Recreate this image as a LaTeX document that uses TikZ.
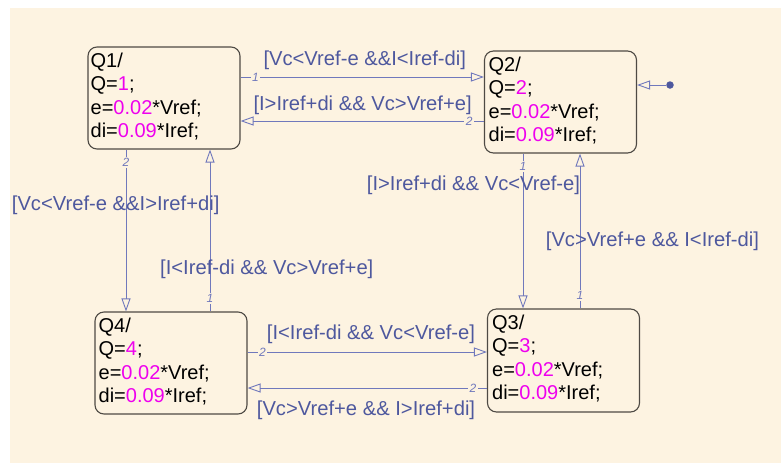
\documentclass[tikz,border=0pt]{standalone}
\usepackage{fontspec}
\setmainfont{Liberation Sans}
\usetikzlibrary{arrows.meta}
\definecolor{paper}{RGB}{253,243,225}
\definecolor{boxline}{RGB}{78,74,68}
\definecolor{trline}{RGB}{112,120,188}
\definecolor{trtext}{RGB}{78,88,158}
\definecolor{numcol}{RGB}{238,0,238}
\newcommand\mg[1]{\textcolor{numcol}{#1}}
\tikzset{
  state/.style={draw=boxline, line width=1.1pt, rounded corners=9pt, fill=paper,
    minimum width=152pt, minimum height=102pt, inner sep=0pt},
  stext/.style={anchor=north west, align=left, inner sep=0pt,
    font={\fontsize{20}{23.3}\selectfont}},
  tr/.style={draw=trline, line width=0.9pt,
    -{Triangle[open, length=13pt, width=9pt]}},
  num/.style={fill=paper, inner sep=1.5pt, text=trline,
    font={\fontsize{12}{13}\selectfont\itshape}},
  guard/.style={anchor=base west, inner sep=0pt, text=trtext,
    font={\fontsize{20.2}{22}\selectfont}}
}
\begin{document}
\begin{tikzpicture}[x=1pt,y=-1pt]
  % canvas
  \useasboundingbox (0,0) rectangle (781,464);
  \fill[white] (0,0) rectangle (781,464);
  \fill[paper] (10,8) rectangle (781,463);

  % states
  \node[state] (q1) at (164,98) {};
  \node[state] (q2) at (560.5,102) {};
  \node[state] (q4) at (171,363) {};
  \node[state, minimum height=103pt] (q3) at (563.5,360.5) {};

  \node[stext] (q1t) at ([xshift=3pt,yshift=-6.3pt]q1.north west)
    {Q1/\\Q=\mg{1};\\e=\mg{0.02}*Vref;\\di=\mg{0.09}*Iref;};
  \node[stext] (q2t) at ([xshift=4.5pt,yshift=-6.3pt]q2.north west)
    {Q2/\\Q=\mg{2};\\e=\mg{0.02}*Vref;\\di=\mg{0.09}*Iref;};
  \node[stext] (q4t) at ([xshift=4pt,yshift=-6.3pt]q4.north west)
    {Q4/\\Q=\mg{4};\\e=\mg{0.02}*Vref;\\di=\mg{0.09}*Iref;};
  \node[stext] (q3t) at ([xshift=5pt,yshift=-6.3pt]q3.north west)
    {Q3/\\Q=\mg{3};\\e=\mg{0.02}*Vref;\\di=\mg{0.09}*Iref;};

  % default transition
  \node[circle, fill=trtext, inner sep=0pt, minimum size=7.5pt] (init) at (670,85) {};
  \draw[tr] (init) -- (q2.east |- 0,85);

  % transitions
  \draw[tr] (q1.east |- 0,77) -- node[num, pos=0.061]{1} (q2.west |- 0,77);
  \draw[tr] (q2.west |- 0,121) -- node[num, pos=0.061]{2} (q1.east |- 0,121);
  \draw[tr] (q1.south -| 126,0) -- node[num, pos=0.08]{2} (q4.north -| 126,0);
  \draw[tr] (q4.north -| 210,0) -- node[num, pos=0.08]{1} (q1.south -| 210,0);
  \draw[tr] (q4.east |- 0,352) -- node[num, pos=0.0625]{2} (q3.west |- 0,352);
  \draw[tr] (q3.west |- 0,388) -- node[num, pos=0.058]{2} (q4.east |- 0,388);
  \draw[tr] (q2.south -| 523,0) -- node[num, pos=0.083]{1} (q3.north -| 523,0);
  \draw[tr] (q3.north -| 580,0) -- node[num, pos=0.083]{1} (q2.south -| 580,0);

  % guards
  \node[guard] (g12) at (263.3,65) {[Vc<Vref-e \&\&I<Iref-di]};
  \node[guard] (g21) at (253.3,110.7) {[I>Iref+di \&\& Vc>Vref+e]};
  \node[guard] (g14) at (11.7,210.7) {[Vc<Vref-e \&\&I>Iref+di]};
  \node[guard] (g41) at (160,274.3) {[I<Iref-di \&\& Vc>Vref+e]};
  \node[guard] (g43) at (266.7,339.3) {[I<Iref-di \&\& Vc<Vref-e]};
  \node[guard] (g34) at (256.7,415.7) {[Vc>Vref+e \&\& I>Iref+di]};
  \node[guard] (g23) at (366.7,190.7) {[I>Iref+di \&\& Vc<Vref-e]};
  \node[guard] (g32) at (545.7,246.7) {[Vc>Vref+e \&\& I<Iref-di]};
\end{tikzpicture}
\end{document}
